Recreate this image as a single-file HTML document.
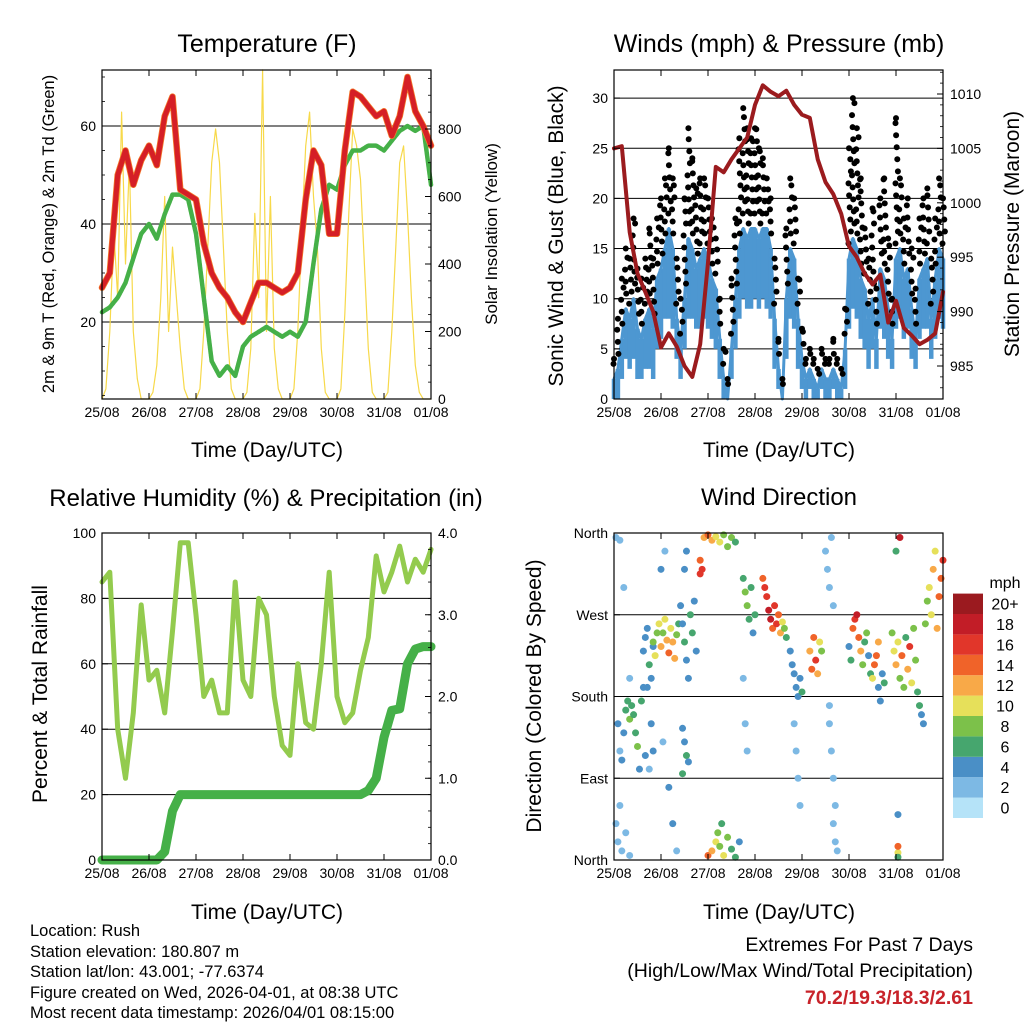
<!DOCTYPE html>
<html><head><meta charset="utf-8"><style>
html,body{margin:0;padding:0;background:#fff;}
svg{display:block;font-family:"Liberation Sans",Arial,sans-serif;}
</style></head><body>
<svg id="s" width="1024" height="1024" viewBox="0 0 1024 1024" xmlns="http://www.w3.org/2000/svg">
<rect width="1024" height="1024" fill="#fff"/>
<text x="267" y="52" font-size="25" text-anchor="middle">Temperature (F)</text>
<text x="779" y="52" font-size="25" text-anchor="middle">Winds (mph) &amp; Pressure (mb)</text>
<text x="266" y="506" font-size="24" text-anchor="middle">Relative Humidity (%) &amp; Precipitation (in)</text>
<text x="779" y="505" font-size="24" text-anchor="middle">Wind Direction</text>
<text x="267" y="457" font-size="21" text-anchor="middle">Time (Day/UTC)</text>
<text x="779" y="457" font-size="21" text-anchor="middle">Time (Day/UTC)</text>
<text x="267" y="919" font-size="21" text-anchor="middle">Time (Day/UTC)</text>
<text x="779" y="919" font-size="21" text-anchor="middle">Time (Day/UTC)</text>
<text transform="translate(54,234) rotate(-90)" font-size="16.5" text-anchor="middle">2m &amp; 9m T (Red, Orange) &amp; 2m Td (Green)</text>
<text transform="translate(497,234) rotate(-90)" font-size="17" text-anchor="middle">Solar Insolation (Yellow)</text>
<text transform="translate(563,236) rotate(-90)" font-size="21" text-anchor="middle">Sonic Wind &amp; Gust (Blue, Black)</text>
<text transform="translate(1019,234) rotate(-90)" font-size="21" text-anchor="middle">Station Pressure (Maroon)</text>
<text transform="translate(47,694) rotate(-90)" font-size="21" text-anchor="middle">Percent &amp; Total Rainfall</text>
<text transform="translate(541,696) rotate(-90)" font-size="21" text-anchor="middle">Direction (Colored By Speed)</text>
<g font-size="16.5">
<text x="30" y="936">Location: Rush</text>
<text x="30" y="957">Station elevation: 180.807 m</text>
<text x="30" y="977">Station lat/lon: 43.001; -77.6374</text>
<text x="30" y="998">Figure created on Wed, 2026-04-01, at 08:38 UTC</text>
<text x="30" y="1018">Most recent data timestamp: 2026/04/01 08:15:00</text>
</g>
<g font-size="19.5" text-anchor="end">
<text x="973" y="951">Extremes For Past 7 Days</text>
<text x="973" y="977">(High/Low/Max Wind/Total Precipitation)</text>
<text x="973" y="1004" font-weight="bold" fill="#c8232a">70.2/19.3/18.3/2.61</text>
</g>
<text x="1005" y="588" font-size="16" text-anchor="middle">mph</text>
<g id="g"></g>
</svg>
<script>
// ---- shared
const dayLabels=["25/08","26/08","27/08","28/08","29/08","30/08","31/08","01/08"];
// temperature panel (4h steps)
const tempF=[27,30,50,55,48,53,56,52,62,66,47,46,45,36,30,27,25,22,20,24,28,28,27,26,27,30,45,55,52,38,38,55,67,66,64,62,63,58,62,70,63,60,56];
const dewF=[22,23,25,28,33,38,40,37,42,46,46,45,38,25,12,9,11,9,15,17,18,19,18,17,18,17,20,32,43,48,47,52,55,55,56,56,55,57,59,60,59,60,48];
// solar (2h steps)
const solar=[0,30,200,500,300,850,400,700,200,60,0,0, 0,20,100,300,600,200,450,300,150,30,0,0, 0,30,200,450,700,800,700,450,200,30,0,0, 0,20,150,550,300,975,200,600,150,30,0,0, 0,30,200,500,750,850,600,450,150,20,0,0, 0,30,250,550,800,750,650,400,150,20,0,0, 0,20,200,450,700,750,550,300,100,20,0,0, 0];
const tempTicks=[20,40,60];
const solarTicks=[0,200,400,600,800];
// wind panel (2h steps)
const windMax=[2,3,6,9,8,10,7,6,8,9,7,12, 13,15,17,15,8,5,10,16,15,13,14,15, 14,12,11,6,2,0,5,10,15,17,16,17, 17,16,17,17,15,8,3,0,10,15,14,8, 4,2,3,2,1,3,2,2,3,2,1,5, 14,16,15,12,11,8,10,6,13,12,9,6, 14,15,12,13,9,6,12,13,14,8,12,15, 14];
const windMin=[0,0,2,4,3,4,2,2,3,3,2,5, 6,8,8,7,4,2,5,8,8,7,7,8, 7,6,5,2,0,0,2,5,8,10,9,9, 10,9,10,9,8,3,1,0,4,8,7,3, 1,0,1,0,0,1,0,0,1,0,0,1, 7,9,8,6,5,3,5,3,7,6,4,3, 7,8,6,7,4,3,6,7,7,4,6,8, 7];
const gust=[4,8,12,15,14,18,13,12,14,17,14,18, 20,22,25,22,14,10,20,27,24,21,22,22, 20,18,16,10,5,2,12,18,26,29,27,26, 27,25,24,22,20,14,6,2,17,22,20,12, 7,4,5,4,3,5,4,4,6,4,3,9, 25,30,27,22,17,14,19,11,20,22,16,10, 28,22,18,20,15,11,18,20,21,14,18,22, 20];
// pressure (4h steps)
const pressure=[1005,1005.2,997.3,993.5,991.8,990,986.7,988,986.8,985,984,987,994.5,1003.3,1002.8,1004,1005,1006,1009,1010.8,1010.2,1009.8,1010.3,1009,1008.1,1007.8,1004,1001.9,1000.8,999,996,995,993.5,992.5,993.4,989,991,988.5,987.8,987,987.4,988,991.8];
const windTicks=[0,5,10,15,20,25,30];
const presTicks=[985,990,995,1000,1005,1010];
// RH / precip (4h steps)
const rh=[85,88,40,25,45,78,55,58,45,70,97,97,75,50,55,45,45,85,55,50,80,75,50,35,32,60,42,40,60,88,50,42,45,58,68,93,82,88,96,85,92,88,95];
const precip=[0,0,0,0,0,0,0,0,0.1,0.6,0.8,0.8,0.8,0.8,0.8,0.8,0.8,0.8,0.8,0.8,0.8,0.8,0.8,0.8,0.8,0.8,0.8,0.8,0.8,0.8,0.8,0.8,0.8,0.8,0.85,1.0,1.5,1.83,1.85,2.4,2.58,2.61,2.61];
const rhTicks=[0,20,40,60,80,100];
const prTicks=["0.0","1.0","2.0","3.0","4.0"];
// wind direction obs: hour, degrees, mph
const dirHours=[2,3,4,5,6,7,8,9,10,11,12,13,14,15,16,18,19,20, 1,2,3,4,1,3,6,8, 15,16,17,18,19,17,20, 20,21,22,23,24,25,26,27,28,29,30,31,32,33, 34,35,36,37,38,39,40,41,42,36,37, 35,36,37,38, 44,45,44, 46,48,50,52,54,56,58,60,62,48,50,52,54,56,58,60,62,64,53,55, 66,67,68,69,70,71,72,66,67,68, 76,77,78,79,80,81,82,83,84,85,86,87,88, 90,91,92,93,94,95,96, 92,93,94,95, 100,101,102,103,104,105,106, 108,109,110,111,112,110,111,112,113,112,113,114,110, 120,121,122,123,124,125,126,127,128,129,130,131,132,133,134,135, 135,136,137,138, 142,143,144,145,146,147,148,149,150,151,152,153,154,155,156,157,158, 159,160,161,162,163,164,165,166,167,168, 145,145,145,145,146,144, 5,8,24,26,25,28,30,32,35];
const dirDeg=[150,120,110,140,165,175,155,170,160,140,125,100,175,190,115,100,150,120, 40,20,60,10,355,352,30,5, 230,245,255,215,200,190,235, 240,225,250,260,235,250,265,242,228,255,240,222,248,260, 280,260,240,220,200,270,250,285,230,320,340, 145,130,115,108, 330,320,315, 355,358,352,356,350,358,345,355,350,5,10,20,15,5,25,12,3,20,30,40, 310,295,280,265,300,250,270,200,150,120, 310,300,290,275,265,255,280,260,270,250,262,255,245, 230,215,205,190,180,200,185, 150,120,90,60, 230,210,245,220,205,240,230, 340,320,300,355,280,150,120,90,60,40,20,10,170, 235,220,255,265,270,245,230,215,240,250,225,205,200,215,225,240, 190,175,205,195, 250,230,215,240,200,225,190,245,210,235,195,255,220,185,170,160,150, 260,285,300,270,320,340,255,290,310,330, 8,15,3,50,355,340, 300,200,320,340,130,80,40,10,95];
const dirSpd=[3,2,4,4,5,6,7,6,5,6,7,4,5,4,3,2,3,4, 1,1,1,1,1,1,1,1, 4,3,4,5,4,4,3, 7,9,8,10,11,8,9,12,13,10,12,11,7,6, 4,4,5,4,3,6,5,4,3,4,3, 4,4,5,4, 14,15,16, 12,14,11,10,9,8,7,8,6,13,11,10,8,9,7,6,5,4,8,5, 6,7,7,6,5,4,6,2,2,2, 14,15,16,17,18,14,15,16,13,12,9,7,6, 4,4,3,4,3,4,5, 1,1,1,1, 12,14,13,15,12,10,8, 1,1,1,1,1,1,1,1,1,1,1,1,1, 4,5,14,16,18,13,12,8,6,7,4,5,10,13,14,12, 4,3,4,5, 8,10,12,9,8,14,7,6,11,16,9,8,7,6,5,4,4, 7,8,9,10,11,10,12,14,13,15, 10,14,6,3,17,5, 1,1,3,2,2,4,3,2,5];
const dirLabels=["North","East","South","West","North"];
const cbLabels=["0","2","4","6","8","10","12","14","16","18","20+"];
const cbColors=["#b5e3f8","#7db9e4","#4a8fc6","#46a66e","#7cc14a","#e6e05a","#f8a948","#f06329","#e1362a","#c21d27","#9b1a1f"];

const NS="http://www.w3.org/2000/svg";
const G=document.getElementById('g');
function mk(tag,attrs,parent){const e=document.createElementNS(NS,tag);for(const k in attrs)e.setAttribute(k,attrs[k]);(parent||G).appendChild(e);return e;}
const W=329;
function xs(x0){return t=>x0+t*W/168;}
const x1=xs(102), x2=xs(614);
const yT=v=>126+(60-v)*4.9, yS=w=>399-w*0.3375;
const yW=v=>399-v*10.03, yP=p=>94+(1010-p)*10.88;
const yRH=v=>860-v*3.27, yPr=p=>860-p*81.75;
const yD=d=>860-d*327/360;

function poly(arr,step,xf,yf,attrs,name){
  const pts=arr.map((v,i)=>xf(i*step).toFixed(1)+","+yf(v).toFixed(1)).join(" ");
  const p=mk('polyline',Object.assign({points:pts,fill:"none","stroke-linejoin":"round","stroke-linecap":"round"},attrs));
  
  
  return p;
}

function frame(x0,y0,y1,name){
  const r=mk('rect',{x:x0,y:y0,width:W,height:y1-y0,fill:"none",stroke:"#000","stroke-width":1.2});
  
  
  dayLabels.forEach((d,i)=>{
    const x=x0+i*W/7;
    mk('line',{x1:x,x2:x,y1:y1,y2:y1-6,stroke:"#000"});
    mk('line',{x1:x,x2:x,y1:y0,y2:y0+6,stroke:"#000"});
    const t=mk('text',{x:x,y:y1+18,"font-size":14,"text-anchor":"middle"});t.textContent=d;
    
    
  });
}
function hgrid(x0,vals,yf){vals.forEach(v=>{mk('line',{x1:x0,x2:x0+W,y1:yf(v),y2:yf(v),stroke:"#000","stroke-width":1});});}
function leftLabels(x0,vals,yf,labs){vals.forEach((v,i)=>{mk('line',{x1:x0,x2:x0+6,y1:yf(v),y2:yf(v),stroke:"#000"});const t=mk('text',{x:x0-6,y:yf(v)+5,"font-size":14,"text-anchor":"end"});t.textContent=labs?labs[i]:v;
  
  });}
function rightLabels(x0,vals,yf,labs){vals.forEach((v,i)=>{mk('line',{x1:x0+W,x2:x0+W-6,y1:yf(v),y2:yf(v),stroke:"#000"});const t=mk('text',{x:x0+W+7,y:yf(v)+5,"font-size":14,"text-anchor":"start"});t.textContent=labs?labs[i]:v;
  
  });}
function minor(x,a,b,step,yf,dir){for(let v=a;v<=b+1e-6;v+=step){mk('line',{x1:x,x2:x+dir*3,y1:yf(v),y2:yf(v),stroke:"#000","stroke-width":0.8});}}

// ===== Panel 1
{
  hgrid(102,tempTicks,yT);
  poly(solar,2,x1,yS,{stroke:"#f7d94a","stroke-width":1.2},'solar-line');
  poly(dewF,4,x1,yT,{stroke:"#45b048","stroke-width":4.5,"stroke-dasharray":"3 1"},'dewpoint-line');
  poly(tempF,4,x1,yT,{stroke:"#f47a2a","stroke-width":6.5},'temp-9m-line');
  poly(tempF,4,x1,yT,{stroke:"#d51f26","stroke-width":5},'temp-2m-line');
  frame(102,70,399,'temp-plot-frame');
  leftLabels(102,tempTicks,yT);
  rightLabels(102,solarTicks,yS);
  minor(102,5,70,5,yT,1);minor(431,0,950,50,yS,-1);
}
// ===== Panel 2
{
  hgrid(614,windTicks,yW);
  windMax.forEach((v,i)=>{
    const b=mk('line',{x1:x2(i*2),x2:x2(i*2),y1:yW(windMin[i]),y2:yW(v),stroke:"#4d97d1","stroke-width":4.5});
    
    
  });
  poly(windMax,2,x2,yW,{stroke:"#4d97d1","stroke-width":3},'wind-speed-line');
  gust.forEach((g,i)=>{
    for(let v=windMax[i]+1.5;v<=g+0.01;v+=1.2){
      const c=mk('circle',{cx:x2(i*2)+((v*7)%3-1),cy:yW(Math.min(v,g)),r:3,fill:"#000"});
      
      
    }
    const c=mk('circle',{cx:x2(i*2),cy:yW(g),r:3,fill:"#000"});
    
    
  });
  poly(pressure,4,x2,yP,{stroke:"#9b1b1e","stroke-width":4},'pressure-line');
  frame(614,70,399,'wind-plot-frame');
  leftLabels(614,windTicks,yW);
  rightLabels(614,presTicks,yP);
  minor(943,983,1012,1,yP,-1);
}
// ===== Panel 3
{
  hgrid(102,rhTicks,yRH);
  poly(rh,4,x1,yRH,{stroke:"#93cb4e","stroke-width":5},'rh-line');
  poly(precip,4,x1,yPr,{stroke:"#45b048","stroke-width":9},'precip-line');
  frame(102,533,860,'rh-plot-frame');
  leftLabels(102,rhTicks,yRH);
  rightLabels(102,[0,1,2,3,4],yPr,prTicks);
  minor(431,0,4,0.2,yPr,-1);
}
// ===== Panel 4
{
  hgrid(614,[90,180,270],yD);
  const col=s=>cbColors[Math.min(10,Math.max(0,Math.round(s/2)))];
  dirHours.forEach((h,i)=>{
    const c=mk('circle',{cx:x2(h),cy:yD(dirDeg[i]),r:3.5,fill:col(dirSpd[i])});
    
    
  });
  frame(614,533,860,'dir-plot-frame');
  leftLabels(614,[0,90,180,270,360],yD,dirLabels);
  cbColors.forEach((c,i)=>{
    const y=818-(i+1)*20.4;
    const r=mk('rect',{x:953,y:y,width:30,height:20.4,fill:c});
    
    
    const t=mk('text',{x:1005,y:y+16,"font-size":16,"text-anchor":"middle"});t.textContent=cbLabels[i];
    
    
  });
}
</script>
</body></html>
